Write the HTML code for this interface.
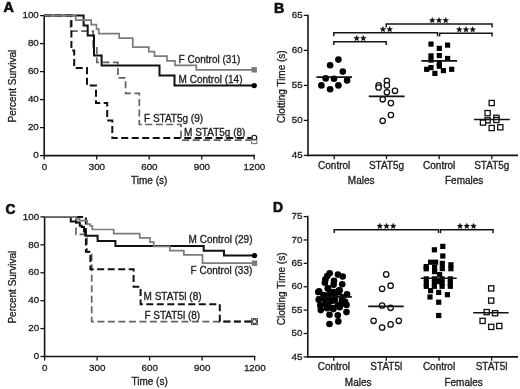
<!DOCTYPE html>
<html><head><meta charset="utf-8"><style>
html,body{margin:0;padding:0;background:#fff;width:520px;height:389px;overflow:hidden}
svg{display:block;will-change:transform;font-family:"Liberation Sans", sans-serif}
text{stroke:#1e1e1e;stroke-width:0.32px}
</style></head><body>
<svg width="520" height="389" viewBox="0 0 520 389">
<rect width="520" height="389" fill="#fff"/>
<line x1="44.20" y1="14.85" x2="44.20" y2="156.35" stroke="#141414" stroke-width="1.6"/>
<line x1="43.40" y1="155.60" x2="255.00" y2="155.60" stroke="#141414" stroke-width="1.6"/>
<line x1="40.00" y1="155.60" x2="44.20" y2="155.60" stroke="#141414" stroke-width="1.3"/>
<text x="38.80" y="158.30" font-size="9.8" text-anchor="end" font-weight="normal" fill="#1e1e1e">0</text>
<line x1="40.00" y1="127.60" x2="44.20" y2="127.60" stroke="#141414" stroke-width="1.3"/>
<text x="38.80" y="130.30" font-size="9.8" text-anchor="end" font-weight="normal" fill="#1e1e1e">20</text>
<line x1="40.00" y1="99.60" x2="44.20" y2="99.60" stroke="#141414" stroke-width="1.3"/>
<text x="38.80" y="102.30" font-size="9.8" text-anchor="end" font-weight="normal" fill="#1e1e1e">40</text>
<line x1="40.00" y1="71.60" x2="44.20" y2="71.60" stroke="#141414" stroke-width="1.3"/>
<text x="38.80" y="74.30" font-size="9.8" text-anchor="end" font-weight="normal" fill="#1e1e1e">60</text>
<line x1="40.00" y1="43.60" x2="44.20" y2="43.60" stroke="#141414" stroke-width="1.3"/>
<text x="38.80" y="46.30" font-size="9.8" text-anchor="end" font-weight="normal" fill="#1e1e1e">80</text>
<line x1="40.00" y1="15.60" x2="44.20" y2="15.60" stroke="#141414" stroke-width="1.3"/>
<text x="38.80" y="18.30" font-size="9.8" text-anchor="end" font-weight="normal" fill="#1e1e1e">100</text>
<line x1="44.20" y1="155.60" x2="44.20" y2="159.60" stroke="#141414" stroke-width="1.3"/>
<text x="44.40" y="169.90" font-size="9.8" text-anchor="middle" font-weight="normal" fill="#1e1e1e">0</text>
<line x1="96.70" y1="155.60" x2="96.70" y2="159.60" stroke="#141414" stroke-width="1.3"/>
<text x="96.90" y="169.90" font-size="9.8" text-anchor="middle" font-weight="normal" fill="#1e1e1e">300</text>
<line x1="149.20" y1="155.60" x2="149.20" y2="159.60" stroke="#141414" stroke-width="1.3"/>
<text x="149.40" y="169.90" font-size="9.8" text-anchor="middle" font-weight="normal" fill="#1e1e1e">600</text>
<line x1="201.70" y1="155.60" x2="201.70" y2="159.60" stroke="#141414" stroke-width="1.3"/>
<text x="201.90" y="169.90" font-size="9.8" text-anchor="middle" font-weight="normal" fill="#1e1e1e">900</text>
<line x1="254.20" y1="155.60" x2="254.20" y2="159.60" stroke="#141414" stroke-width="1.3"/>
<text x="254.40" y="169.90" font-size="9.8" text-anchor="middle" font-weight="normal" fill="#1e1e1e">1200</text>
<text x="149.20" y="184.10" font-size="10" text-anchor="middle" font-weight="normal" fill="#1e1e1e">Time (s)</text>
<text x="0.00" y="0.00" font-size="10" text-anchor="middle" font-weight="normal" fill="#1e1e1e" transform="translate(15.9 86.10) rotate(-90)">Percent Survival</text>
<text x="3.40" y="11.60" font-size="14.3" text-anchor="start" font-weight="bold" fill="#111" style="stroke:#111;stroke-width:0.7px">A</text>
<polyline points="44.20,15.60 70.60,15.60 70.60,31.10 93.20,31.10 93.20,46.70 96.80,46.70 96.80,62.30 117.90,62.30 117.90,77.80 125.60,77.80 125.60,93.40 139.30,93.40 139.30,124.50 181.00,124.50 181.00,140.10 254.20,140.10" fill="none" stroke="#636363" stroke-width="1.7" stroke-dasharray="7 3.5" stroke-linejoin="miter" stroke-linecap="butt"/>
<polyline points="44.20,15.60 71.40,15.60 71.40,50.60 74.20,50.60 74.20,68.10 87.00,68.10 87.00,85.60 96.00,85.60 96.00,103.10 107.20,103.10 107.20,120.60 112.30,120.60 112.30,138.10 254.20,138.10" fill="none" stroke="#111" stroke-width="2.0" stroke-dasharray="7 3.5" stroke-linejoin="miter" stroke-linecap="butt"/>
<polyline points="44.20,15.60 83.60,15.60 83.60,25.60 87.70,25.60 87.70,35.60 94.00,35.60 94.00,55.60 101.60,55.60 101.60,65.60 159.50,65.60 159.50,75.60 174.50,75.60 174.50,85.60 254.20,85.60" fill="none" stroke="#111" stroke-width="2.0" stroke-linejoin="miter" stroke-linecap="butt"/>
<polyline points="44.20,15.60 75.80,15.60 75.80,20.10 91.20,20.10 91.20,24.70 96.50,24.70 96.50,29.20 98.80,29.20 98.80,33.70 119.20,33.70 119.20,38.20 132.80,38.20 132.80,47.20 148.80,47.20 148.80,51.70 154.50,51.70 154.50,56.20 167.00,56.20 167.00,60.80 175.00,60.80 175.00,65.30 196.30,65.30 196.30,69.80 254.20,69.80" fill="none" stroke="#7b7b7b" stroke-width="1.7" stroke-linejoin="miter" stroke-linecap="butt"/>
<rect x="251.5" y="67.1" width="5.4" height="5.4" fill="#7a7a7a"/>
<circle cx="254.2" cy="85.6" r="2.7" fill="#000"/>
<rect x="251.6" y="138.4" width="5.2" height="5.2" fill="#fff" stroke="#777" stroke-width="1.1"/>
<circle cx="254.3" cy="137.6" r="2.4" fill="#fff" stroke="#111" stroke-width="1.1"/>
<text x="178.60" y="62.60" font-size="10" text-anchor="start" font-weight="normal" fill="#1e1e1e">F Control (31)</text>
<text x="178.60" y="82.60" font-size="10" text-anchor="start" font-weight="normal" fill="#1e1e1e">M Control (14)</text>
<text x="144.00" y="121.80" font-size="10" text-anchor="start" font-weight="normal" fill="#1e1e1e">F STAT5g (9)</text>
<text x="184.10" y="135.60" font-size="10" text-anchor="start" font-weight="normal" fill="#1e1e1e">M STAT5g (8)</text>
<line x1="44.60" y1="216.15" x2="44.60" y2="357.25" stroke="#141414" stroke-width="1.6"/>
<line x1="43.80" y1="356.50" x2="255.40" y2="356.50" stroke="#141414" stroke-width="1.6"/>
<line x1="40.40" y1="356.50" x2="44.60" y2="356.50" stroke="#141414" stroke-width="1.3"/>
<text x="39.20" y="359.20" font-size="9.8" text-anchor="end" font-weight="normal" fill="#1e1e1e">0</text>
<line x1="40.40" y1="328.58" x2="44.60" y2="328.58" stroke="#141414" stroke-width="1.3"/>
<text x="39.20" y="331.28" font-size="9.8" text-anchor="end" font-weight="normal" fill="#1e1e1e">20</text>
<line x1="40.40" y1="300.66" x2="44.60" y2="300.66" stroke="#141414" stroke-width="1.3"/>
<text x="39.20" y="303.36" font-size="9.8" text-anchor="end" font-weight="normal" fill="#1e1e1e">40</text>
<line x1="40.40" y1="272.74" x2="44.60" y2="272.74" stroke="#141414" stroke-width="1.3"/>
<text x="39.20" y="275.44" font-size="9.8" text-anchor="end" font-weight="normal" fill="#1e1e1e">60</text>
<line x1="40.40" y1="244.82" x2="44.60" y2="244.82" stroke="#141414" stroke-width="1.3"/>
<text x="39.20" y="247.52" font-size="9.8" text-anchor="end" font-weight="normal" fill="#1e1e1e">80</text>
<line x1="40.40" y1="216.90" x2="44.60" y2="216.90" stroke="#141414" stroke-width="1.3"/>
<text x="39.20" y="219.60" font-size="9.8" text-anchor="end" font-weight="normal" fill="#1e1e1e">100</text>
<line x1="44.60" y1="356.50" x2="44.60" y2="360.50" stroke="#141414" stroke-width="1.3"/>
<text x="44.80" y="370.80" font-size="9.8" text-anchor="middle" font-weight="normal" fill="#1e1e1e">0</text>
<line x1="97.10" y1="356.50" x2="97.10" y2="360.50" stroke="#141414" stroke-width="1.3"/>
<text x="97.30" y="370.80" font-size="9.8" text-anchor="middle" font-weight="normal" fill="#1e1e1e">300</text>
<line x1="149.60" y1="356.50" x2="149.60" y2="360.50" stroke="#141414" stroke-width="1.3"/>
<text x="149.80" y="370.80" font-size="9.8" text-anchor="middle" font-weight="normal" fill="#1e1e1e">600</text>
<line x1="202.10" y1="356.50" x2="202.10" y2="360.50" stroke="#141414" stroke-width="1.3"/>
<text x="202.30" y="370.80" font-size="9.8" text-anchor="middle" font-weight="normal" fill="#1e1e1e">900</text>
<line x1="254.60" y1="356.50" x2="254.60" y2="360.50" stroke="#141414" stroke-width="1.3"/>
<text x="254.80" y="370.80" font-size="9.8" text-anchor="middle" font-weight="normal" fill="#1e1e1e">1200</text>
<text x="149.60" y="385.00" font-size="10" text-anchor="middle" font-weight="normal" fill="#1e1e1e">Time (s)</text>
<text x="0.00" y="0.00" font-size="10" text-anchor="middle" font-weight="normal" fill="#1e1e1e" transform="translate(15.9 287.20) rotate(-90)">Percent Survival</text>
<text x="5.40" y="213.80" font-size="13.8" text-anchor="start" font-weight="bold" fill="#111" style="stroke:#111;stroke-width:0.7px">C</text>
<polyline points="44.60,216.90 76.00,216.90 76.00,234.40 87.00,234.40 87.00,251.80 91.70,251.80 91.70,321.60 254.50,321.60" fill="none" stroke="#636363" stroke-width="1.7" stroke-dasharray="7 3.5" stroke-linejoin="miter" stroke-linecap="butt"/>
<polyline points="44.60,216.90 85.90,216.90 85.90,251.80 90.40,251.80 90.40,269.30 133.60,269.30 133.60,286.70 140.60,286.70 140.60,304.20 219.80,304.20 219.80,321.60 254.50,321.60" fill="none" stroke="#111" stroke-width="2.0" stroke-dasharray="7 3.5" stroke-linejoin="miter" stroke-linecap="butt"/>
<polyline points="44.60,216.90 70.80,216.90 70.80,221.40 76.30,221.40 76.30,222.60 79.80,222.60 79.80,225.80 81.70,225.80 81.70,227.10 84.00,227.10 84.00,231.50 85.30,231.50 85.30,235.80 97.60,235.80 97.60,240.90 115.40,240.90 115.40,245.90 203.70,245.90 203.70,250.80 224.00,250.80 224.00,255.60 254.50,255.60" fill="none" stroke="#111" stroke-width="2.0" stroke-linejoin="miter" stroke-linecap="butt"/>
<polyline points="44.60,216.90 76.30,216.90 76.30,219.10 79.50,219.10 79.50,220.60 87.20,220.60 87.20,224.20 90.10,224.20 90.10,225.80 92.30,225.80 92.30,229.50 113.70,229.50 113.70,233.60 139.70,233.60 139.70,237.80 150.00,237.80 150.00,242.10 153.80,242.10 153.80,246.30 169.80,246.30 169.80,250.60 183.80,250.60 183.80,254.80 202.50,254.80 202.50,263.20 254.50,263.20" fill="none" stroke="#7b7b7b" stroke-width="1.7" stroke-linejoin="miter" stroke-linecap="butt"/>
<rect x="251.8" y="260.5" width="5.4" height="5.4" fill="#7a7a7a"/>
<circle cx="254.5" cy="255.6" r="2.7" fill="#000"/>
<rect x="251.6" y="318.7" width="5.8" height="5.8" fill="#fff" stroke="#555" stroke-width="1.2"/>
<circle cx="254.5" cy="321.6" r="2.1" fill="#fff" stroke="#222" stroke-width="1.0"/>
<text x="188.60" y="242.60" font-size="10" text-anchor="start" font-weight="normal" fill="#1e1e1e">M Control (29)</text>
<text x="190.60" y="273.90" font-size="10" text-anchor="start" font-weight="normal" fill="#1e1e1e">F Control (33)</text>
<text x="143.60" y="300.40" font-size="10" text-anchor="start" font-weight="normal" fill="#1e1e1e">M STAT5l (8)</text>
<text x="144.40" y="318.80" font-size="10" text-anchor="start" font-weight="normal" fill="#1e1e1e">F STAT5l (8)</text>
<line x1="308.00" y1="14.65" x2="308.00" y2="156.15" stroke="#141414" stroke-width="1.6"/>
<line x1="307.20" y1="155.40" x2="518.00" y2="155.40" stroke="#141414" stroke-width="1.6"/>
<line x1="303.80" y1="155.40" x2="308.00" y2="155.40" stroke="#141414" stroke-width="1.3"/>
<text x="302.60" y="158.10" font-size="9.8" text-anchor="end" font-weight="normal" fill="#1e1e1e">45</text>
<line x1="303.80" y1="120.40" x2="308.00" y2="120.40" stroke="#141414" stroke-width="1.3"/>
<text x="302.60" y="123.10" font-size="9.8" text-anchor="end" font-weight="normal" fill="#1e1e1e">50</text>
<line x1="303.80" y1="85.40" x2="308.00" y2="85.40" stroke="#141414" stroke-width="1.3"/>
<text x="302.60" y="88.10" font-size="9.8" text-anchor="end" font-weight="normal" fill="#1e1e1e">55</text>
<line x1="303.80" y1="50.40" x2="308.00" y2="50.40" stroke="#141414" stroke-width="1.3"/>
<text x="302.60" y="53.10" font-size="9.8" text-anchor="end" font-weight="normal" fill="#1e1e1e">60</text>
<line x1="303.80" y1="15.40" x2="308.00" y2="15.40" stroke="#141414" stroke-width="1.3"/>
<text x="302.60" y="18.10" font-size="9.8" text-anchor="end" font-weight="normal" fill="#1e1e1e">65</text>
<line x1="334.20" y1="155.40" x2="334.20" y2="159.20" stroke="#141414" stroke-width="1.3"/>
<line x1="386.50" y1="155.40" x2="386.50" y2="159.20" stroke="#141414" stroke-width="1.3"/>
<line x1="439.20" y1="155.40" x2="439.20" y2="159.20" stroke="#141414" stroke-width="1.3"/>
<line x1="491.80" y1="155.40" x2="491.80" y2="159.20" stroke="#141414" stroke-width="1.3"/>
<text x="334.20" y="168.70" font-size="10" text-anchor="middle" font-weight="normal" fill="#1e1e1e">Control</text>
<text x="386.50" y="168.70" font-size="10" text-anchor="middle" font-weight="normal" fill="#1e1e1e">STAT5g</text>
<text x="439.20" y="168.70" font-size="10" text-anchor="middle" font-weight="normal" fill="#1e1e1e">Control</text>
<text x="491.80" y="168.70" font-size="10" text-anchor="middle" font-weight="normal" fill="#1e1e1e">STAT5g</text>
<text x="361.20" y="184.10" font-size="10" text-anchor="middle" font-weight="normal" fill="#1e1e1e">Males</text>
<text x="464.20" y="184.10" font-size="10" text-anchor="middle" font-weight="normal" fill="#1e1e1e">Females</text>
<text x="274.00" y="12.60" font-size="14.2" text-anchor="start" font-weight="bold" fill="#111" style="stroke:#111;stroke-width:0.7px">B</text>
<text font-size="10" text-anchor="middle" fill="#1e1e1e" transform="translate(284.6 86.7) rotate(-90)">Clotting Time (s)</text>
<circle cx="338.4" cy="59.6" r="3.3" fill="#000"/>
<circle cx="330.1" cy="65.3" r="3.3" fill="#000"/>
<circle cx="342.8" cy="71.6" r="3.3" fill="#000"/>
<circle cx="325.7" cy="78.4" r="3.3" fill="#000"/>
<circle cx="334.0" cy="78.8" r="3.3" fill="#000"/>
<circle cx="347.1" cy="80.4" r="3.3" fill="#000"/>
<circle cx="321.4" cy="85.4" r="3.3" fill="#000"/>
<circle cx="338.4" cy="85.4" r="3.3" fill="#000"/>
<circle cx="330.1" cy="89.3" r="3.3" fill="#000"/>
<line x1="316.40" y1="77.10" x2="352.00" y2="77.10" stroke="#111" stroke-width="1.6"/>
<circle cx="386.9" cy="80.8" r="2.7" fill="#fff" stroke="#111" stroke-width="1.3"/>
<circle cx="386.9" cy="85.4" r="2.7" fill="#fff" stroke="#111" stroke-width="1.3"/>
<circle cx="378.6" cy="85.4" r="2.7" fill="#fff" stroke="#111" stroke-width="1.3"/>
<circle cx="378.6" cy="87.5" r="2.7" fill="#fff" stroke="#111" stroke-width="1.3"/>
<circle cx="386.9" cy="92.3" r="2.7" fill="#fff" stroke="#111" stroke-width="1.3"/>
<circle cx="395.0" cy="90.8" r="2.7" fill="#fff" stroke="#111" stroke-width="1.3"/>
<circle cx="382.7" cy="99.3" r="2.7" fill="#fff" stroke="#111" stroke-width="1.3"/>
<circle cx="390.9" cy="103.1" r="2.7" fill="#fff" stroke="#111" stroke-width="1.3"/>
<circle cx="390.9" cy="115.0" r="2.7" fill="#fff" stroke="#111" stroke-width="1.3"/>
<circle cx="382.7" cy="120.8" r="2.7" fill="#fff" stroke="#111" stroke-width="1.3"/>
<line x1="368.80" y1="96.40" x2="404.60" y2="96.40" stroke="#111" stroke-width="1.6"/>
<rect x="428.4" y="41.5" width="5.2" height="5.2" fill="#000"/>
<rect x="445.0" y="42.5" width="5.2" height="5.2" fill="#000"/>
<rect x="436.7" y="45.8" width="5.2" height="5.2" fill="#000"/>
<rect x="428.4" y="53.3" width="5.2" height="5.2" fill="#000"/>
<rect x="436.7" y="53.0" width="5.2" height="5.2" fill="#000"/>
<rect x="445.0" y="55.9" width="5.2" height="5.2" fill="#000"/>
<rect x="428.4" y="57.5" width="5.2" height="5.2" fill="#000"/>
<rect x="436.7" y="60.8" width="5.2" height="5.2" fill="#000"/>
<rect x="436.7" y="63.6" width="5.2" height="5.2" fill="#000"/>
<rect x="428.4" y="65.0" width="5.2" height="5.2" fill="#000"/>
<rect x="424.1" y="66.7" width="5.2" height="5.2" fill="#000"/>
<rect x="432.3" y="70.8" width="5.2" height="5.2" fill="#000"/>
<rect x="440.8" y="68.0" width="5.2" height="5.2" fill="#000"/>
<rect x="449.1" y="66.7" width="5.2" height="5.2" fill="#000"/>
<line x1="421.40" y1="60.90" x2="457.10" y2="60.90" stroke="#111" stroke-width="1.6"/>
<rect x="489.10" y="100.40" width="5.2" height="5.2" fill="#fff" stroke="#111" stroke-width="1.3"/>
<rect x="485.00" y="110.50" width="5.2" height="5.2" fill="#fff" stroke="#111" stroke-width="1.3"/>
<rect x="485.00" y="117.70" width="5.2" height="5.2" fill="#fff" stroke="#111" stroke-width="1.3"/>
<rect x="480.40" y="120.00" width="5.2" height="5.2" fill="#fff" stroke="#111" stroke-width="1.3"/>
<rect x="493.80" y="115.20" width="5.2" height="5.2" fill="#fff" stroke="#111" stroke-width="1.3"/>
<rect x="493.80" y="117.40" width="5.2" height="5.2" fill="#fff" stroke="#111" stroke-width="1.3"/>
<rect x="489.10" y="125.40" width="5.2" height="5.2" fill="#fff" stroke="#111" stroke-width="1.3"/>
<rect x="497.70" y="124.70" width="5.2" height="5.2" fill="#fff" stroke="#111" stroke-width="1.3"/>
<line x1="474.00" y1="119.50" x2="509.80" y2="119.50" stroke="#111" stroke-width="1.6"/>
<polyline points="333.80,45.10 333.80,41.70 386.20,41.70 386.20,45.10" fill="none" stroke="#141414" stroke-width="1.45" stroke-linejoin="miter" stroke-linecap="butt"/>
<polygon points="356.65,35.30 357.48,37.16 359.50,37.37 357.99,38.74 358.41,40.73 356.65,39.71 354.89,40.73 355.31,38.74 353.80,37.37 355.82,37.16" fill="#111" stroke="#111" stroke-width="0.35" stroke-linejoin="round"/>
<polygon points="363.35,35.30 364.18,37.16 366.20,37.37 364.69,38.74 365.11,40.73 363.35,39.71 361.59,40.73 362.01,38.74 360.50,37.37 362.52,37.16" fill="#111" stroke="#111" stroke-width="0.35" stroke-linejoin="round"/>
<polyline points="333.80,36.20 333.80,32.80 437.50,32.80 437.50,36.20" fill="none" stroke="#141414" stroke-width="1.45" stroke-linejoin="miter" stroke-linecap="butt"/>
<polygon points="382.95,26.40 383.78,28.26 385.80,28.47 384.29,29.84 384.71,31.83 382.95,30.81 381.19,31.83 381.61,29.84 380.10,28.47 382.12,28.26" fill="#111" stroke="#111" stroke-width="0.35" stroke-linejoin="round"/>
<polygon points="389.65,26.40 390.48,28.26 392.50,28.47 390.99,29.84 391.41,31.83 389.65,30.81 387.89,31.83 388.31,29.84 386.80,28.47 388.82,28.26" fill="#111" stroke="#111" stroke-width="0.35" stroke-linejoin="round"/>
<polyline points="386.20,27.40 386.20,24.00 492.10,24.00 492.10,27.40" fill="none" stroke="#141414" stroke-width="1.45" stroke-linejoin="miter" stroke-linecap="butt"/>
<polygon points="432.30,17.40 433.13,19.26 435.15,19.47 433.64,20.84 434.06,22.83 432.30,21.81 430.54,22.83 430.96,20.84 429.45,19.47 431.47,19.26" fill="#111" stroke="#111" stroke-width="0.35" stroke-linejoin="round"/>
<polygon points="439.00,17.40 439.83,19.26 441.85,19.47 440.34,20.84 440.76,22.83 439.00,21.81 437.24,22.83 437.66,20.84 436.15,19.47 438.17,19.26" fill="#111" stroke="#111" stroke-width="0.35" stroke-linejoin="round"/>
<polygon points="445.70,17.40 446.53,19.26 448.55,19.47 447.04,20.84 447.46,22.83 445.70,21.81 443.94,22.83 444.36,20.84 442.85,19.47 444.87,19.26" fill="#111" stroke="#111" stroke-width="0.35" stroke-linejoin="round"/>
<polyline points="439.60,36.60 439.60,33.20 492.10,33.20 492.10,36.60" fill="none" stroke="#141414" stroke-width="1.45" stroke-linejoin="miter" stroke-linecap="butt"/>
<polygon points="459.30,26.60 460.13,28.46 462.15,28.67 460.64,30.04 461.06,32.03 459.30,31.01 457.54,32.03 457.96,30.04 456.45,28.67 458.47,28.46" fill="#111" stroke="#111" stroke-width="0.35" stroke-linejoin="round"/>
<polygon points="466.00,26.60 466.83,28.46 468.85,28.67 467.34,30.04 467.76,32.03 466.00,31.01 464.24,32.03 464.66,30.04 463.15,28.67 465.17,28.46" fill="#111" stroke="#111" stroke-width="0.35" stroke-linejoin="round"/>
<polygon points="472.70,26.60 473.53,28.46 475.55,28.67 474.04,30.04 474.46,32.03 472.70,31.01 470.94,32.03 471.36,30.04 469.85,28.67 471.87,28.46" fill="#111" stroke="#111" stroke-width="0.35" stroke-linejoin="round"/>
<line x1="307.80" y1="215.85" x2="307.80" y2="357.65" stroke="#141414" stroke-width="1.6"/>
<line x1="307.00" y1="356.90" x2="518.00" y2="356.90" stroke="#141414" stroke-width="1.6"/>
<line x1="303.60" y1="356.90" x2="307.80" y2="356.90" stroke="#141414" stroke-width="1.3"/>
<text x="302.40" y="359.60" font-size="9.8" text-anchor="end" font-weight="normal" fill="#1e1e1e">45</text>
<line x1="303.60" y1="333.52" x2="307.80" y2="333.52" stroke="#141414" stroke-width="1.3"/>
<text x="302.40" y="336.22" font-size="9.8" text-anchor="end" font-weight="normal" fill="#1e1e1e">50</text>
<line x1="303.60" y1="310.13" x2="307.80" y2="310.13" stroke="#141414" stroke-width="1.3"/>
<text x="302.40" y="312.83" font-size="9.8" text-anchor="end" font-weight="normal" fill="#1e1e1e">55</text>
<line x1="303.60" y1="286.75" x2="307.80" y2="286.75" stroke="#141414" stroke-width="1.3"/>
<text x="302.40" y="289.45" font-size="9.8" text-anchor="end" font-weight="normal" fill="#1e1e1e">60</text>
<line x1="303.60" y1="263.37" x2="307.80" y2="263.37" stroke="#141414" stroke-width="1.3"/>
<text x="302.40" y="266.07" font-size="9.8" text-anchor="end" font-weight="normal" fill="#1e1e1e">65</text>
<line x1="303.60" y1="239.98" x2="307.80" y2="239.98" stroke="#141414" stroke-width="1.3"/>
<text x="302.40" y="242.68" font-size="9.8" text-anchor="end" font-weight="normal" fill="#1e1e1e">70</text>
<line x1="303.60" y1="216.60" x2="307.80" y2="216.60" stroke="#141414" stroke-width="1.3"/>
<text x="302.40" y="219.30" font-size="9.8" text-anchor="end" font-weight="normal" fill="#1e1e1e">75</text>
<line x1="333.80" y1="356.90" x2="333.80" y2="360.70" stroke="#141414" stroke-width="1.3"/>
<line x1="386.30" y1="356.90" x2="386.30" y2="360.70" stroke="#141414" stroke-width="1.3"/>
<line x1="439.00" y1="356.90" x2="439.00" y2="360.70" stroke="#141414" stroke-width="1.3"/>
<line x1="491.60" y1="356.90" x2="491.60" y2="360.70" stroke="#141414" stroke-width="1.3"/>
<text x="333.80" y="370.20" font-size="10" text-anchor="middle" font-weight="normal" fill="#1e1e1e">Control</text>
<text x="386.30" y="370.20" font-size="10" text-anchor="middle" font-weight="normal" fill="#1e1e1e">STAT5l</text>
<text x="439.00" y="370.20" font-size="10" text-anchor="middle" font-weight="normal" fill="#1e1e1e">Control</text>
<text x="491.60" y="370.20" font-size="10" text-anchor="middle" font-weight="normal" fill="#1e1e1e">STAT5l</text>
<text x="358.20" y="385.60" font-size="10" text-anchor="middle" font-weight="normal" fill="#1e1e1e">Males</text>
<text x="463.60" y="385.60" font-size="10" text-anchor="middle" font-weight="normal" fill="#1e1e1e">Females</text>
<text x="273.00" y="211.80" font-size="13.8" text-anchor="start" font-weight="bold" fill="#111" style="stroke:#111;stroke-width:0.7px">D</text>
<text font-size="10" text-anchor="middle" fill="#1e1e1e" transform="translate(284.6 288.9) rotate(-90)">Clotting Time (s)</text>
<circle cx="329.7" cy="273.2" r="3.3" fill="#000"/>
<circle cx="327.3" cy="276.1" r="3.3" fill="#000"/>
<circle cx="325.4" cy="279.4" r="3.3" fill="#000"/>
<circle cx="324.9" cy="282.8" r="3.3" fill="#000"/>
<circle cx="337.9" cy="274.6" r="3.3" fill="#000"/>
<circle cx="342.7" cy="276.5" r="3.3" fill="#000"/>
<circle cx="334.0" cy="280.9" r="3.3" fill="#000"/>
<circle cx="333.6" cy="284.7" r="3.3" fill="#000"/>
<circle cx="342.2" cy="284.2" r="3.3" fill="#000"/>
<circle cx="327.8" cy="288.6" r="3.3" fill="#000"/>
<circle cx="319.1" cy="291.4" r="3.3" fill="#000"/>
<circle cx="338.8" cy="290.5" r="3.3" fill="#000"/>
<circle cx="347.0" cy="294.3" r="3.3" fill="#000"/>
<circle cx="329.5" cy="314.7" r="3.3" fill="#000"/>
<circle cx="337.8" cy="315.2" r="3.3" fill="#000"/>
<circle cx="346.5" cy="312.1" r="3.3" fill="#000"/>
<circle cx="346.5" cy="304.9" r="3.3" fill="#000"/>
<circle cx="329.5" cy="324.0" r="3.3" fill="#000"/>
<circle cx="338.3" cy="321.4" r="3.3" fill="#000"/>
<circle cx="320.8" cy="310.1" r="3.3" fill="#000"/>
<circle cx="318.7" cy="299.8" r="3.3" fill="#000"/>
<circle cx="320.3" cy="305.4" r="3.3" fill="#000"/>
<circle cx="325.4" cy="304.4" r="3.3" fill="#000"/>
<circle cx="332.6" cy="308.0" r="3.3" fill="#000"/>
<circle cx="337.8" cy="305.4" r="3.3" fill="#000"/>
<circle cx="341.9" cy="300.3" r="3.3" fill="#000"/>
<circle cx="334.7" cy="300.3" r="3.3" fill="#000"/>
<circle cx="329.5" cy="298.2" r="3.3" fill="#000"/>
<circle cx="323.4" cy="295.1" r="3.3" fill="#000"/>
<circle cx="318.2" cy="292.1" r="3.3" fill="#000"/>
<circle cx="330.6" cy="293.1" r="3.3" fill="#000"/>
<circle cx="338.8" cy="292.1" r="3.3" fill="#000"/>
<circle cx="328.0" cy="288.4" r="3.3" fill="#000"/>
<circle cx="333.4" cy="292.0" r="3.3" fill="#000"/>
<circle cx="339.7" cy="290.2" r="3.3" fill="#000"/>
<circle cx="327.1" cy="295.6" r="3.3" fill="#000"/>
<circle cx="335.2" cy="296.5" r="3.3" fill="#000"/>
<circle cx="342.4" cy="297.4" r="3.3" fill="#000"/>
<circle cx="324.4" cy="299.2" r="3.3" fill="#000"/>
<circle cx="331.6" cy="301.0" r="3.3" fill="#000"/>
<circle cx="345.1" cy="301.9" r="3.3" fill="#000"/>
<circle cx="328.0" cy="304.6" r="3.3" fill="#000"/>
<circle cx="341.5" cy="303.7" r="3.3" fill="#000"/>
<circle cx="327.1" cy="308.2" r="3.3" fill="#000"/>
<circle cx="333.4" cy="309.1" r="3.3" fill="#000"/>
<circle cx="339.7" cy="307.3" r="3.3" fill="#000"/>
<line x1="316.50" y1="296.90" x2="351.80" y2="296.90" stroke="#111" stroke-width="1.6"/>
<circle cx="386.2" cy="274.4" r="2.7" fill="#fff" stroke="#111" stroke-width="1.3"/>
<circle cx="390.6" cy="285.7" r="2.7" fill="#fff" stroke="#111" stroke-width="1.3"/>
<circle cx="382.1" cy="288.8" r="2.7" fill="#fff" stroke="#111" stroke-width="1.3"/>
<circle cx="382.1" cy="305.5" r="2.7" fill="#fff" stroke="#111" stroke-width="1.3"/>
<circle cx="390.6" cy="307.8" r="2.7" fill="#fff" stroke="#111" stroke-width="1.3"/>
<circle cx="373.6" cy="320.8" r="2.7" fill="#fff" stroke="#111" stroke-width="1.3"/>
<circle cx="382.1" cy="327.6" r="2.7" fill="#fff" stroke="#111" stroke-width="1.3"/>
<circle cx="390.6" cy="324.4" r="2.7" fill="#fff" stroke="#111" stroke-width="1.3"/>
<circle cx="398.8" cy="320.8" r="2.7" fill="#fff" stroke="#111" stroke-width="1.3"/>
<line x1="368.20" y1="306.40" x2="403.70" y2="306.40" stroke="#111" stroke-width="1.6"/>
<rect x="440.2" y="243.8" width="5.2" height="5.2" fill="#000"/>
<rect x="431.8" y="247.2" width="5.2" height="5.2" fill="#000"/>
<rect x="440.2" y="253.4" width="5.2" height="5.2" fill="#000"/>
<rect x="423.6" y="264.0" width="5.2" height="5.2" fill="#000"/>
<rect x="423.6" y="266.2" width="5.2" height="5.2" fill="#000"/>
<rect x="428.0" y="259.6" width="5.2" height="5.2" fill="#000"/>
<rect x="433.0" y="259.6" width="5.2" height="5.2" fill="#000"/>
<rect x="432.0" y="264.8" width="5.2" height="5.2" fill="#000"/>
<rect x="432.0" y="269.0" width="5.2" height="5.2" fill="#000"/>
<rect x="439.7" y="260.8" width="5.2" height="5.2" fill="#000"/>
<rect x="439.7" y="266.0" width="5.2" height="5.2" fill="#000"/>
<rect x="448.3" y="262.2" width="5.2" height="5.2" fill="#000"/>
<rect x="448.3" y="266.1" width="5.2" height="5.2" fill="#000"/>
<rect x="437.0" y="272.0" width="5.2" height="5.2" fill="#000"/>
<rect x="423.7" y="276.3" width="5.2" height="5.2" fill="#000"/>
<rect x="423.7" y="280.4" width="5.2" height="5.2" fill="#000"/>
<rect x="423.7" y="283.7" width="5.2" height="5.2" fill="#000"/>
<rect x="431.8" y="276.3" width="5.2" height="5.2" fill="#000"/>
<rect x="431.8" y="280.4" width="5.2" height="5.2" fill="#000"/>
<rect x="431.8" y="283.7" width="5.2" height="5.2" fill="#000"/>
<rect x="439.5" y="276.3" width="5.2" height="5.2" fill="#000"/>
<rect x="439.5" y="280.4" width="5.2" height="5.2" fill="#000"/>
<rect x="439.5" y="283.7" width="5.2" height="5.2" fill="#000"/>
<rect x="447.7" y="276.3" width="5.2" height="5.2" fill="#000"/>
<rect x="447.7" y="280.4" width="5.2" height="5.2" fill="#000"/>
<rect x="447.7" y="283.7" width="5.2" height="5.2" fill="#000"/>
<rect x="435.6" y="278.9" width="5.2" height="5.2" fill="#000"/>
<rect x="428.0" y="288.0" width="5.2" height="5.2" fill="#000"/>
<rect x="436.1" y="289.8" width="5.2" height="5.2" fill="#000"/>
<rect x="444.8" y="292.1" width="5.2" height="5.2" fill="#000"/>
<rect x="427.4" y="294.4" width="5.2" height="5.2" fill="#000"/>
<rect x="436.1" y="299.6" width="5.2" height="5.2" fill="#000"/>
<rect x="436.1" y="312.9" width="5.2" height="5.2" fill="#000"/>
<line x1="420.80" y1="278.30" x2="456.70" y2="278.30" stroke="#111" stroke-width="1.6"/>
<rect x="488.60" y="285.80" width="5.2" height="5.2" fill="#fff" stroke="#111" stroke-width="1.3"/>
<rect x="488.60" y="298.00" width="5.2" height="5.2" fill="#fff" stroke="#111" stroke-width="1.3"/>
<rect x="484.10" y="309.50" width="5.2" height="5.2" fill="#fff" stroke="#111" stroke-width="1.3"/>
<rect x="492.50" y="310.60" width="5.2" height="5.2" fill="#fff" stroke="#111" stroke-width="1.3"/>
<rect x="480.00" y="318.30" width="5.2" height="5.2" fill="#fff" stroke="#111" stroke-width="1.3"/>
<rect x="488.60" y="324.30" width="5.2" height="5.2" fill="#fff" stroke="#111" stroke-width="1.3"/>
<rect x="496.70" y="323.40" width="5.2" height="5.2" fill="#fff" stroke="#111" stroke-width="1.3"/>
<line x1="473.20" y1="312.80" x2="508.60" y2="312.80" stroke="#111" stroke-width="1.6"/>
<polyline points="334.20,233.10 334.20,229.70 438.50,229.70 438.50,233.10" fill="none" stroke="#141414" stroke-width="1.45" stroke-linejoin="miter" stroke-linecap="butt"/>
<polygon points="379.80,223.20 380.63,225.06 382.65,225.27 381.14,226.64 381.56,228.63 379.80,227.61 378.04,228.63 378.46,226.64 376.95,225.27 378.97,225.06" fill="#111" stroke="#111" stroke-width="0.35" stroke-linejoin="round"/>
<polygon points="386.50,223.20 387.33,225.06 389.35,225.27 387.84,226.64 388.26,228.63 386.50,227.61 384.74,228.63 385.16,226.64 383.65,225.27 385.67,225.06" fill="#111" stroke="#111" stroke-width="0.35" stroke-linejoin="round"/>
<polygon points="393.20,223.20 394.03,225.06 396.05,225.27 394.54,226.64 394.96,228.63 393.20,227.61 391.44,228.63 391.86,226.64 390.35,225.27 392.37,225.06" fill="#111" stroke="#111" stroke-width="0.35" stroke-linejoin="round"/>
<polyline points="440.50,233.20 440.50,229.80 493.10,229.80 493.10,233.20" fill="none" stroke="#141414" stroke-width="1.45" stroke-linejoin="miter" stroke-linecap="butt"/>
<polygon points="460.10,223.20 460.93,225.06 462.95,225.27 461.44,226.64 461.86,228.63 460.10,227.61 458.34,228.63 458.76,226.64 457.25,225.27 459.27,225.06" fill="#111" stroke="#111" stroke-width="0.35" stroke-linejoin="round"/>
<polygon points="466.80,223.20 467.63,225.06 469.65,225.27 468.14,226.64 468.56,228.63 466.80,227.61 465.04,228.63 465.46,226.64 463.95,225.27 465.97,225.06" fill="#111" stroke="#111" stroke-width="0.35" stroke-linejoin="round"/>
<polygon points="473.50,223.20 474.33,225.06 476.35,225.27 474.84,226.64 475.26,228.63 473.50,227.61 471.74,228.63 472.16,226.64 470.65,225.27 472.67,225.06" fill="#111" stroke="#111" stroke-width="0.35" stroke-linejoin="round"/>
</svg>
</body></html>
